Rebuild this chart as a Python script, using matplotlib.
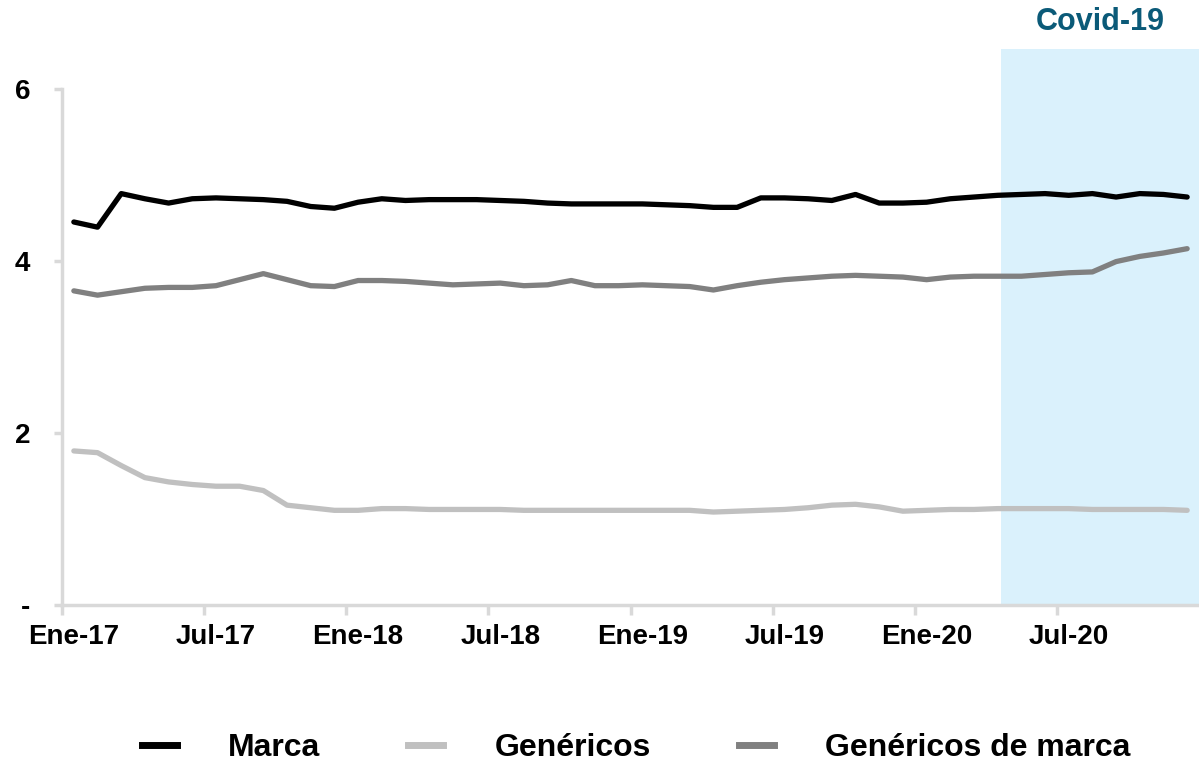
"""
Precio promedio: Marca vs Genéricos vs Genéricos de marca (Ene-17 a Dic-20)
"""
import matplotlib
matplotlib.use('Agg')
import matplotlib.pyplot as plt
from matplotlib.lines import Line2D

plt.rcParams['font.family'] = ['Liberation Sans', 'DejaVu Sans']
plt.rcParams['font.weight'] = 'bold'

# meses (48): Ene-17 .. Dic-20
meses = ['Ene', 'Feb', 'Mar', 'Abr', 'May', 'Jun', 'Jul', 'Ago', 'Sep', 'Oct', 'Nov', 'Dic']
anios = ['17', '18', '19', '20']
periodos = [f'{m}-{a}' for a in anios for m in meses]

marca = [4.45, 4.39, 4.78, 4.72, 4.67, 4.72, 4.73, 4.72, 4.71, 4.69, 4.63, 4.61,
         4.68, 4.72, 4.70, 4.71, 4.71, 4.71, 4.70, 4.69, 4.67, 4.66, 4.66, 4.66,
         4.66, 4.65, 4.64, 4.62, 4.62, 4.73, 4.73, 4.72, 4.70, 4.77, 4.67, 4.67,
         4.68, 4.72, 4.74, 4.76, 4.77, 4.78, 4.76, 4.78, 4.74, 4.78, 4.77, 4.74]

genericos = [1.79, 1.77, 1.62, 1.48, 1.43, 1.40, 1.38, 1.38, 1.33, 1.16, 1.13, 1.10,
             1.10, 1.12, 1.12, 1.11, 1.11, 1.11, 1.11, 1.10, 1.10, 1.10, 1.10, 1.10,
             1.10, 1.10, 1.10, 1.08, 1.09, 1.10, 1.11, 1.13, 1.16, 1.17, 1.14, 1.09,
             1.10, 1.11, 1.11, 1.12, 1.12, 1.12, 1.12, 1.11, 1.11, 1.11, 1.11, 1.10]

genericos_marca = [3.65, 3.60, 3.64, 3.68, 3.69, 3.69, 3.71, 3.78, 3.85, 3.78, 3.71, 3.70,
                   3.77, 3.77, 3.76, 3.74, 3.72, 3.73, 3.74, 3.71, 3.72, 3.77, 3.71, 3.71,
                   3.72, 3.71, 3.70, 3.66, 3.71, 3.75, 3.78, 3.80, 3.82, 3.83, 3.82, 3.81,
                   3.78, 3.81, 3.82, 3.82, 3.82, 3.84, 3.86, 3.87, 3.99, 4.05, 4.09, 4.14]

covid_inicio = 'Abr-20'

series = [
    ('Marca', marca, '#000000'),
    ('Genéricos', genericos, '#c0c0c0'),
    ('Genéricos de marca', genericos_marca, '#808080'),
]

fig = plt.figure(figsize=(11.99, 7.62), dpi=100)
ax = fig.add_axes([62 / 1199, 1 - 605 / 762, 1 - 62 / 1199, (605 - 49) / 762])

x = list(range(len(periodos)))

# zona covid
i0 = periodos.index(covid_inicio)
ax.axvspan(i0 + 0.16, len(periodos) - 0.5, color='#daf1fc', zorder=0, lw=0)
ax.text((i0 + 0.16 + len(periodos) - 0.5) / 2, 6.77, 'Covid-19', ha='center', va='center',
        fontsize=22, fontweight='bold', color='#0b5a78', clip_on=False)

for nombre, vals, col in series:
    ax.plot(x, vals, color=col, lw=3.8, solid_joinstyle='round', solid_capstyle='round',
            label=nombre, zorder=3)

ax.set_xlim(-0.5, len(periodos) - 0.5)
ax.set_ylim(0, 6.46)

for s in ['top', 'right']:
    ax.spines[s].set_visible(False)
for s in ['left', 'bottom']:
    ax.spines[s].set_color('#d9d9d9')
    ax.spines[s].set_linewidth(2.5)
ax.spines['left'].set_bounds(0, 6)

ax.set_yticks([0, 2, 4, 6])
ax.set_yticklabels(['-', '2', '4', '6'])
ax.tick_params(axis='y', length=6, width=2.5, color='#d9d9d9', pad=17, labelsize=20)

# etiquetas en el centro de la categoria, marcas en los limites
ax.set_xticks(x[::6])
ax.set_xticklabels(periodos[::6])
ax.tick_params(axis='x', which='major', length=0, pad=14, labelsize=20)
ax.set_xticks([i - 0.5 for i in x[::6]], minor=True)
ax.tick_params(axis='x', which='minor', length=7, width=2.5, color='#d9d9d9')
for lbl in ax.get_xticklabels() + ax.get_yticklabels():
    lbl.set_fontweight('bold')

handles = [Line2D([0], [0], color=col, lw=5) for _, _, col in series]
fig.legend(handles, [s[0] for s in series], loc='center', bbox_to_anchor=(0.5305, 0.018),
           ncol=3, frameon=False, prop={'size': 23, 'weight': 'bold'},
           handlelength=1.1, handletextpad=1.6, columnspacing=2.75)

fig.savefig('out.png', dpi=100)
